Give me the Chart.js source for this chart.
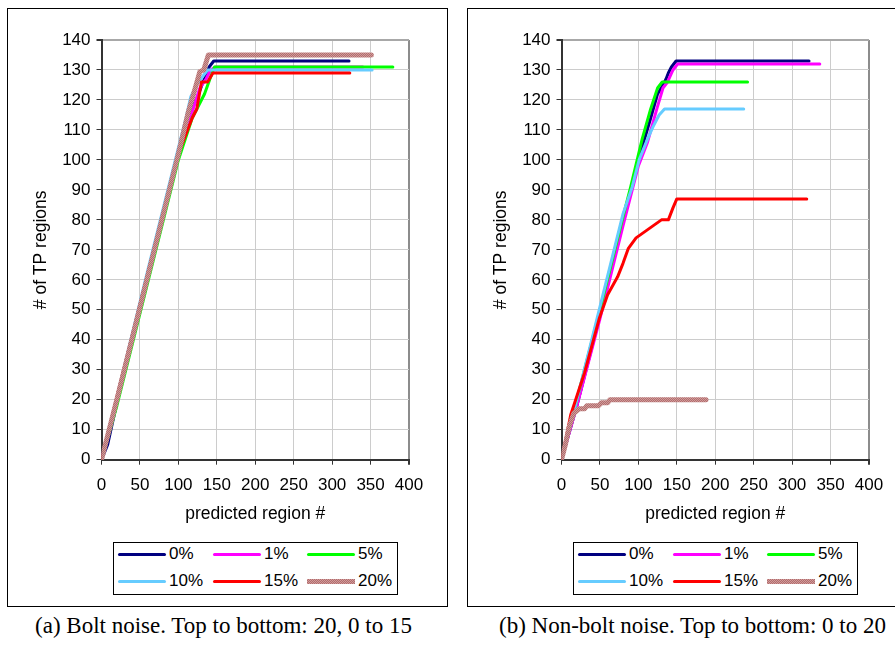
<!DOCTYPE html>
<html>
<head>
<meta charset="utf-8">
<script src="https://cdn.jsdelivr.net/npm/chart.js@4.4.0/dist/chart.umd.min.js"></script>
<style>
  html, body { margin: 0; padding: 0; background: #fff; }
  #page { position: relative; width: 895px; height: 646px; overflow: hidden; }
  .panel { position: absolute; top: 8px; width: 439px; height: 597px; border: 1px solid #000; background: #fff; }
  .panel canvas { position: absolute; left: 0; top: 0; }
  .legend { position: absolute; left: 105px; top: 533px; width: 283px; height: 51px; border: 1px solid #000;
            font: 17px "Liberation Sans", Arial, sans-serif; color: #000; }
  .item { position: absolute; display: flex; align-items: center; height: 20px; }
  .sw { width: 48px; height: 3px; margin-right: 3px; border-radius: 2px; }
  .cap { position: absolute; top: 613px; width: 441px; text-align: center;
         font: 23px "Liberation Serif", "Times New Roman", serif; color: #000; white-space: nowrap; }
</style>
</head>
<body>
<div id="page">
<div class="panel" id="panelA" style="left:7px"><canvas id="chartA" width="439" height="520"></canvas></div>
<div class="panel" id="panelB" style="left:467px"><canvas id="chartB" width="439" height="520"></canvas></div>
<div class="cap" style="left:3px">(a) Bolt noise. Top to bottom: 20, 0 to 15</div>
<div class="cap" style="left:472px">(b) Non-bolt noise. Top to bottom: 0 to 20</div>
</div>
<script>
// series labels and colours
const noiseLabels = ['0%', '1%', '5%', '10%', '15%', '20%'];
const noiseColors = ['#000080', '#ff00ff', '#00ff00', '#66ccff', '#ff0000', 'pattern'];

// (a) bolt noise, [predicted region #, # of TP regions]
const bolt0  = [[0,0],[8,5],[20,19],[60,61],[100,102],[115,116],[125,121],[132,126],[136,128],[140,131],[146,133],[322,133]];
const bolt1  = [[0,0],[20,20],[60,61],[100,101],[118,116],[128,124],[136,127],[142,130],[148,131],[340,131]];
const bolt5  = [[0,0],[20,18],[60,59],[100,100],[118,114],[128,119],[134,122],[141,127],[147,131],[379,131]];
const bolt10 = [[0,0],[20,21],[60,63],[100,104],[110,114],[116,121],[124,125],[132,128],[138,130],[352,130]];
const bolt15 = [[0,0],[20,21],[60,62],[100,102],[118,114],[124,117],[130,126],[138,126],[145,129],[323,129]];
const bolt20 = [[0,0],[20,20],[60,61],[100,102],[113,116],[122,124],[128,129.5],[133,130],[139,135],[351,135]];

// (b) non-bolt noise
const nonBolt0  = [[0,0],[20,18],[50,48],[80,80],[100,100],[115,113],[125,122],[132,125],[136,127],[139,129],[143,131],[149,133],[322,133]];
const nonBolt1  = [[0,0],[20,18],[50,47],[80,78],[100,98],[112,106],[124,117],[132,124],[138,126],[145,130],[151,132],[336,132]];
const nonBolt5  = [[0,0],[20,20],[50,50],[80,81],[90,91],[105,107],[116,117],[125,124],[131,126],[242,126]];
const nonBolt10 = [[0,0],[20,20],[50,51],[80,82],[92,91],[101,100],[112,107],[119,111],[127,115],[134,117],[237,117]];
const nonBolt15 = [[0,0],[5,6],[12,15],[30,29],[49,47],[60,55],[73,61],[80,65.5],[87,70.5],[97,74],[108,76],[119,78],[130,80],[139,80],[145,84],[150,87],[319,87]];
const nonBolt20 = [[0,0],[5,5],[10,11],[16,15.5],[23,17],[30,17],[33,18],[48,18],[52,19],[60,19],[63,20],[188,20]];

const xTicks = { min: 0, max: 400, step: 50 };
const yTicks = { min: 0, max: 140, step: 10 };

const FONT = '"Liberation Sans", Arial, sans-serif';

function hatchPattern(ctx) {
  const c = document.createElement('canvas');
  c.width = 2; c.height = 2;
  const g = c.getContext('2d');
  g.fillStyle = '#d29a9a'; g.fillRect(0, 0, 2, 2);
  g.fillStyle = '#b06e6e'; g.fillRect(0, 0, 1, 1); g.fillRect(1, 1, 1, 1);
  return ctx.createPattern(c, 'repeat');
}

function buildLegend(panel) {
  const box = document.createElement('div');
  box.className = 'legend';
  const colX = [4, 99, 193];
  const rowY = [1, 28];
  noiseLabels.forEach((lab, i) => {
    const it = document.createElement('div');
    it.className = 'item';
    it.style.left = colX[i % 3] + 'px';
    it.style.top = rowY[Math.floor(i / 3)] + 'px';
    const sw = document.createElement('div');
    sw.className = 'sw';
    if (noiseColors[i] === 'pattern') {
      sw.style.height = '5px';
      sw.style.borderRadius = '0';
      sw.style.background = 'repeating-conic-gradient(#b06e6e 0 25%, #d29a9a 0 50%) 0 0/2px 2px';
    } else {
      sw.style.background = noiseColors[i];
    }
    const tx = document.createElement('span');
    tx.textContent = lab;
    it.appendChild(sw); it.appendChild(tx);
    box.appendChild(it);
  });
  panel.appendChild(box);
}

function makeChart(canvasId, seriesList) {
  const ctx = document.getElementById(canvasId).getContext('2d');
  const pat = hatchPattern(ctx);
  const datasets = seriesList.map((s, i) => ({
    label: noiseLabels[i],
    data: s.map(p => ({ x: p[0], y: p[1] })),
    borderColor: noiseColors[i] === 'pattern' ? pat : noiseColors[i],
    borderWidth: noiseColors[i] === 'pattern' ? 5 : 3,
    borderCapStyle: 'round',
    borderJoinStyle: 'round',
    pointRadius: 0,
    tension: 0,
    fill: false,
    order: seriesList.length - i
  }));
  return new Chart(ctx, {
    type: 'line',
    data: { datasets: datasets },
    options: {
      responsive: false,
      animation: false,
      devicePixelRatio: 1,
      layout: { padding: { left: 0, right: 38, top: 31, bottom: 0 } },
      plugins: { legend: { display: false }, tooltip: { enabled: false } },
      scales: {
        x: {
          type: 'linear', min: xTicks.min, max: xTicks.max,
          ticks: { stepSize: xTicks.step, color: '#000', font: { size: 17, family: FONT }, padding: 10, maxRotation: 0 },
          grid: {
            color: c => (c.tick && c.tick.value === xTicks.max) ? '#8c8c8c' : '#cccccc',
            lineWidth: c => (c.tick && c.tick.value === xTicks.max) ? 2 : 1,
            tickLength: 5, tickColor: '#333'
          },
          border: { color: '#333', width: 2 },
          title: { display: true, text: 'predicted region #', color: '#000', font: { size: 17.5, family: FONT }, padding: { top: 0, bottom: 4 } },
          afterFit: s => { s.height = 69.3; }
        },
        y: {
          min: yTicks.min, max: yTicks.max,
          ticks: { stepSize: yTicks.step, color: '#000', font: { size: 17, family: FONT }, padding: 6 },
          grid: {
            color: c => (c.tick && c.tick.value === yTicks.max) ? '#a8a8a8' : '#cccccc',
            lineWidth: c => (c.tick && c.tick.value === yTicks.max) ? 2 : 1,
            tickLength: 5, tickColor: '#333'
          },
          border: { color: '#333', width: 2 },
          title: { display: true, text: '# of TP regions', color: '#000', font: { size: 17.5, family: FONT }, padding: { top: 23, bottom: 0 } },
          afterFit: s => { s.width = 93.5; }
        }
      }
    }
  });
}

makeChart('chartA', [bolt0, bolt1, bolt5, bolt10, bolt15, bolt20]);
makeChart('chartB', [nonBolt0, nonBolt1, nonBolt5, nonBolt10, nonBolt15, nonBolt20]);
buildLegend(document.getElementById('panelA'));
buildLegend(document.getElementById('panelB'));
</script>
</body>
</html>
